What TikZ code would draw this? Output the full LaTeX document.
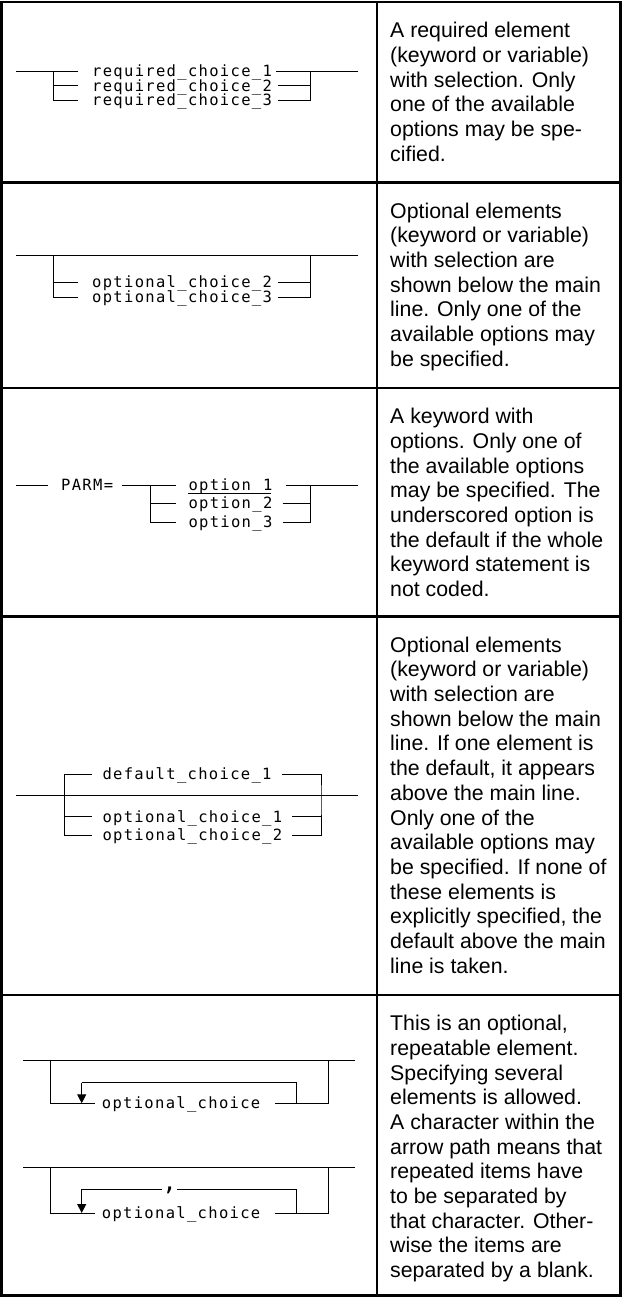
\documentclass[tikz,border=0pt]{standalone}
\usepackage{fontspec}
\setmainfont{Liberation Sans}
\newfontfamily\synfont[LetterSpace=8.5]{DejaVu Sans Mono}
\usetikzlibrary{arrows.meta}
\begin{document}
\begin{tikzpicture}[x=1pt,y=-1pt,
  frame/.style={line width=2.7pt},
  ln/.style={line width=1pt},
  syn/.style={font=\fontsize{15.5}{15.5}\synfont, inner sep=0pt, anchor=west, text height=10.6pt, text depth=0pt},
  desc/.style={anchor=north west, inner sep=0pt, align=left, font=\fontsize{21.3}{24.7}\selectfont},
  rep/.style={ln, -{Triangle[width=9pt,length=9pt]}},
  sep/.style={font=\fontsize{24}{24}\synfont, inner sep=0pt, minimum width=11.5pt, anchor=base}
]
\useasboundingbox (0,0) rectangle (622,1297);
\fill[white] (0,0) rectangle (622,1297);
% table frame
\draw[frame] (1.7,2) rectangle (620.3,1295.3);
\draw[frame] (377,2) -- (377,1295.3);
\draw[frame] (1.7,182.5) -- (620.3,182.5);
\draw[frame] (1.7,388) -- (620.3,388);
\draw[frame] (1.7,616.5) -- (620.3,616.5);
\draw[frame] (1.7,995) -- (620.3,995);

% ---------- row 1: required choice
\coordinate (a1) at (16,71.7);
\coordinate (j1) at (53.3,71.7);
\coordinate (k1) at (310,71.7);
\coordinate (b1) at (358.3,71.7);
\node[syn] (c11) at (92,71.7) {required\_choice\_1};
\node[syn] (c12) at (92,86) {required\_choice\_2};
\node[syn] (c13) at (92,100.2) {required\_choice\_3};
\draw[ln] (a1) -- ([xshift=-14pt]c11.west);
\draw[ln] (j1) |- ([xshift=-14pt]c13.west);
\draw[ln] (j1 |- c12.west) -- ([xshift=-14pt]c12.west);
\draw[ln] ([xshift=4pt]c11.east) -- (b1);
\draw[ln] ([xshift=6pt]c12.east) -- (k1 |- c12.west);
\draw[ln] ([xshift=6pt]c13.east) -| (k1);

% ---------- row 2: optional choice
\coordinate (a2) at (16,255);
\coordinate (j2) at (53.3,255);
\coordinate (k2) at (310,255);
\coordinate (b2) at (358.3,255);
\node[syn] (c22) at (92,282) {optional\_choice\_2};
\node[syn] (c23) at (92,297) {optional\_choice\_3};
\draw[ln] (a2) -- (b2);
\draw[ln] (j2) |- ([xshift=-14pt]c23.west);
\draw[ln] (j2 |- c22.west) -- ([xshift=-14pt]c22.west);
\draw[ln] (k2) |- ([xshift=6pt]c23.east);
\draw[ln] (k2 |- c22.west) -- ([xshift=6pt]c22.east);

% ---------- row 3: PARM=
\coordinate (a3) at (16,485);
\coordinate (j3) at (150,485);
\coordinate (k3) at (310,485);
\coordinate (b3) at (358.3,485);
\node[syn] (parm) at (61,485) {PARM=};
\node[syn] (o1) at (188.3,485) {option\_1};
\node[syn] (o2) at (188.3,503) {option\_2};
\node[syn] (o3) at (188.3,522) {option\_3};
\draw[ln] (a3) -- ([xshift=-13pt]parm.west);
\draw[ln] ([xshift=9pt]parm.east) -- ([xshift=-12pt]o1.west);
\draw[ln] (j3) |- ([xshift=-12pt]o3.west);
\draw[ln] (j3 |- o2.west) -- ([xshift=-12pt]o2.west);
\draw[ln] ([xshift=13pt]o1.east) -- (b3);
\draw[ln] ([xshift=10pt]o2.east) -- (k3 |- o2.west);
\draw[ln] ([xshift=10pt]o3.east) -| (k3);
\draw[ln] ([yshift=-2.8pt]o1.base west) -- ([yshift=-2.8pt,xshift=-1.3pt]o1.base east);

% ---------- row 4: default choice
\coordinate (a4) at (16,795);
\coordinate (j4) at (64.3,795);
\coordinate (k4) at (321,795);
\coordinate (b4) at (358.3,795);
\node[syn] (d1) at (102.3,774.3) {default\_choice\_1};
\node[syn] (p1) at (102.3,816.7) {optional\_choice\_1};
\node[syn] (p2) at (102.3,835) {optional\_choice\_2};
\draw[ln] (a4) -- (b4);
\draw[ln] ([xshift=-10.6pt]d1.west) -| (j4) |- ([xshift=-10.6pt]p2.west);
\draw[ln] (j4 |- p1.west) -- ([xshift=-10.6pt]p1.west);
\draw[ln] ([xshift=10pt]d1.east) -| (k4) |- ([xshift=10pt]p2.east);
\draw[ln] ([xshift=10pt]p1.east) -- (k4 |- p1.west);

% ---------- row 5: repeatable, no separator
\coordinate (a5) at (23.3,1060);
\coordinate (l5) at (50,1060);
\coordinate (r5) at (328.3,1060);
\coordinate (b5) at (355,1060);
\coordinate (i5) at (81.7,1082.7);
\coordinate (e5) at (296,1082.7);
\node[syn] (t5) at (101.7,1103.3) {optional\_choice};
\draw[ln] (a5) -- (b5);
\draw[ln] (l5) |- ([xshift=-6.7pt]t5.west);
\draw[ln] (r5) |- ([xshift=14pt]t5.east);
\draw[ln] (i5) -- (e5) -- (e5 |- t5.west);
\draw[rep] (i5) -- (i5 |- t5.west);

% ---------- row 5: repeatable, comma separator
\coordinate (a6) at (23.3,1167.3);
\coordinate (l6) at (50,1167.3);
\coordinate (r6) at (328.3,1167.3);
\coordinate (b6) at (355,1167.3);
\coordinate (i6) at (81.7,1189);
\coordinate (e6) at (296,1189);
\node[syn] (t6) at (101.7,1213) {optional\_choice};
\node[sep] (cm) at (169.5,1190.5) {,};
\draw[ln] (a6) -- (b6);
\draw[ln] (l6) |- ([xshift=-6.7pt]t6.west);
\draw[ln] (r6) |- ([xshift=14pt]t6.east);
\draw[ln] (i6) -- (cm.west |- i6);
\draw[ln] (cm.east |- i6) -- (e6) -- (e6 |- t6.west);
\draw[rep] (i6) -- (i6 |- t6.west);

% ---------- descriptions
\node[desc] (d1t) at (390,22) {A required element\\(keyword or variable)\\with selection. Only\\one of the available\\options may be spe-\\cified.};
\node[desc] (d2t) at (390,202.5) {Optional elements\\(keyword or variable)\\with selection are\\shown below the main\\line. Only one of the\\available options may\\be specified.};
\node[desc] (d3t) at (390,408) {A keyword with\\options. Only one of\\the available options\\may be specified. The\\underscored option is\\the default if the whole\\keyword statement is\\not coded.};
\node[desc] (d4t) at (390,636.5) {Optional elements\\(keyword or variable)\\with selection are\\shown below the main\\line. If one element is\\the default, it appears\\above the main line.\\Only one of the\\available options may\\be specified. If none of\\these elements is\\explicitly specified, the\\default above the main\\line is taken.};
\node[desc] (d5t) at (390,1015) {This is an optional,\\repeatable element.\\Specifying several\\elements is allowed.\\A character within the\\arrow path means that\\repeated items have\\to be separated by\\that character. Other-\\wise the items are\\separated by a blank.};
\end{tikzpicture}
\end{document}
